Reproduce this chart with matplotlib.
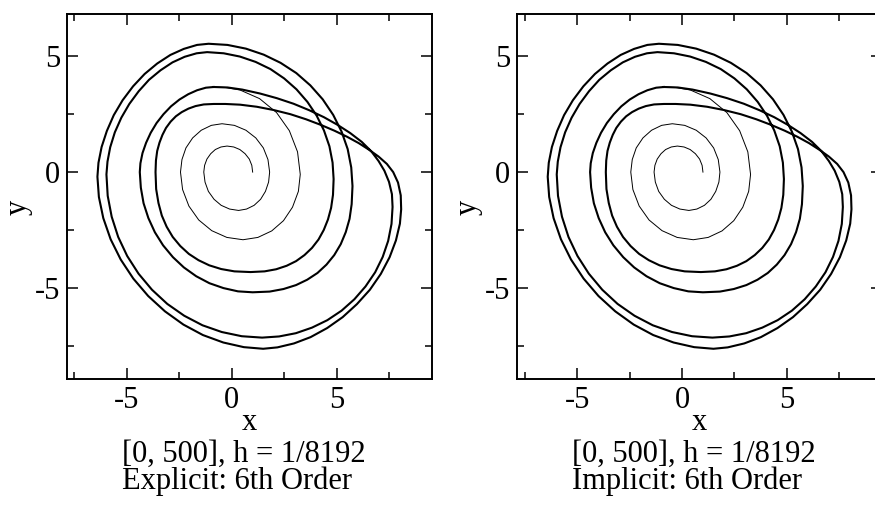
import numpy as np
import matplotlib
matplotlib.use('Agg')
import matplotlib.pyplot as plt
from matplotlib.ticker import MultipleLocator

plt.rcParams['font.family'] = ['Liberation Serif', 'DejaVu Serif']

# transient spiral starting at (1, 0)
spiral_x = [1.0, 0.96, 0.84, 0.64, 0.39, 0.10,
            -0.22, -0.51, -0.78, -1.00, -1.18, -1.29,
            -1.33, -1.27, -1.11, -0.84, -0.50, -0.10,
            0.33, 0.71, 1.07, 1.38, 1.61, 1.76,
            1.81, 1.73, 1.51, 1.15, 0.68, 0.13,
            -0.46, -0.97, -1.45, -1.86, -2.18, -2.37,
            -2.44, -2.34, -2.04, -1.57, -0.95, -0.23,
            0.54, 1.25, 1.91, 2.47, 2.90, 3.18,
            3.27, 3.14, 2.75, 2.14, 1.33, 0.40, -0.3, -0.86]
spiral_y = [0.0, 0.29, 0.56, 0.79, 0.97, 1.08,
            1.12, 1.08, 0.97, 0.79, 0.56, 0.29,
            0.0, -0.43, -0.83, -1.17, -1.43, -1.59,
            -1.65, -1.59, -1.43, -1.17, -0.83, -0.43,
            0.0, 0.54, 1.04, 1.47, 1.80, 2.01,
            2.08, 2.01, 1.80, 1.47, 1.04, 0.54,
            0.0, -0.75, -1.46, -2.06, -2.52, -2.81,
            -2.91, -2.81, -2.53, -2.09, -1.51, -0.83,
            -0.1, 0.87, 1.78, 2.56, 3.16, 3.53, 3.64, 3.66]

# settled orbit (four loops per period)
orbit_x = [
    # loop with top 3.7
    -0.86, -1.23, -1.65, -2.07, -2.49, -2.89, -3.25, -3.58, -3.86, -4.08, -4.25, -4.35,
    -4.38, -4.33, -4.20, -3.97, -3.66, -3.27, -2.80, -2.28, -1.69, -1.06, -0.39, 0.30,
    1.0, 1.81, 2.47, 3.07, 3.60, 4.09, 4.52, 4.89, 5.20, 5.44, 5.62, 5.72,
    5.76, 5.70, 5.53, 5.24, 4.84, 4.34, 3.75, 3.08, 2.33, 1.53, 0.68, -0.20,
    # loop with top 5.5, then the fold
    -1.1, -1.65, -2.28, -2.92, -3.55, -4.15, -4.70, -5.20, -5.62, -5.95, -6.20, -6.35,
    -6.4, -6.33, -6.12, -5.77, -5.29, -4.69, -3.98, -3.18, -2.30, -1.37, -0.40, 0.58,
    1.5, 2.18, 2.97, 3.76, 4.55, 5.29, 5.97, 6.59, 7.11, 7.53, 7.83, 8.02,
    8.08, 8.06, 7.93, 7.7, 7.4, 7.0, 6.55, 6.05, 5.5, 4.9, 4.25, 3.55, 2.8, 2.0, 1.2, 0.4, -0.3,
    # loop with top 2.9
    -0.86, -1.33, -1.72, -2.06, -2.38, -2.66, -2.91, -3.13, -3.30, -3.44, -3.55, -3.61,
    -3.63, -3.60, -3.49, -3.33, -3.10, -2.81, -2.45, -2.04, -1.58, -1.07, -0.50, 0.13,
    0.9, 1.57, 2.12, 2.62, 3.07, 3.47, 3.83, 4.14, 4.39, 4.59, 4.74, 4.83,
    4.86, 4.81, 4.66, 4.40, 4.05, 3.61, 3.09, 2.50, 1.85, 1.14, 0.39, -0.38,
    # loop with top 5.2, then the fold
    -1.17, -1.67, -2.24, -2.82, -3.39, -3.94, -4.43, -4.88, -5.26, -5.57, -5.79, -5.92,
    -5.97, -5.91, -5.72, -5.41, -4.98, -4.44, -3.80, -3.07, -2.26, -1.39, -0.47, 0.48,
    1.45, 2.26, 3.06, 3.83, 4.56, 5.24, 5.85, 6.38, 6.84, 7.20, 7.46, 7.62,
    7.67, 7.64, 7.5, 7.28, 7.0, 6.65, 6.2, 5.65, 5.05, 4.4, 3.7, 2.95, 2.15, 1.35, 0.5, -0.2,
    -0.86]
orbit_y = [
    3.66, 3.63, 3.52, 3.35, 3.12, 2.83, 2.49, 2.11, 1.69, 1.26, 0.82, 0.38,
    0.0, -0.67, -1.34, -1.98, -2.59, -3.15, -3.66, -4.10, -4.48, -4.78, -4.99, -5.13,
    -5.17, -5.14, -5.03, -4.86, -4.63, -4.34, -3.98, -3.57, -3.10, -2.58, -2.01, -1.38,
    -0.6, 0.20, 0.99, 1.74, 2.46, 3.13, 3.73, 4.26, 4.70, 5.05, 5.31, 5.47,
    5.52, 5.47, 5.30, 5.04, 4.67, 4.22, 3.69, 3.09, 2.45, 1.77, 1.08, 0.40,
    -0.2, -1.07, -1.98, -2.89, -3.76, -4.58, -5.33, -5.99, -6.56, -7.01, -7.33, -7.53,
    -7.6, -7.54, -7.37, -7.10, -6.71, -6.24, -5.68, -5.06, -4.38, -3.66, -2.94, -2.22,
    -1.6, -1.0, -0.45, 0.0, 0.35, 0.67, 0.96, 1.25, 1.52, 1.78, 2.03, 2.27, 2.49, 2.67, 2.81, 2.9, 2.93,
    2.93, 2.91, 2.84, 2.73, 2.58, 2.40, 2.17, 1.90, 1.60, 1.27, 0.91, 0.50,
    0.0, -0.73, -1.33, -1.87, -2.35, -2.79, -3.18, -3.52, -3.79, -4.01, -4.17, -4.27,
    -4.3, -4.27, -4.18, -4.03, -3.83, -3.57, -3.26, -2.90, -2.49, -2.04, -1.54, -0.98,
    -0.3, 0.41, 1.11, 1.79, 2.43, 3.02, 3.56, 4.03, 4.43, 4.74, 4.97, 5.11,
    5.16, 5.11, 4.96, 4.72, 4.38, 3.97, 3.48, 2.93, 2.34, 1.71, 1.07, 0.45,
    -0.1, -1.02, -1.92, -2.79, -3.61, -4.37, -5.06, -5.67, -6.18, -6.59, -6.88, -7.06,
    -7.12, -7.07, -6.93, -6.69, -6.37, -5.96, -5.47, -4.92, -4.31, -3.65, -2.96, -2.23,
    -1.5, -0.95, -0.42, 0.06, 0.48, 0.9, 1.3, 1.68, 2.03, 2.36, 2.66, 2.94, 3.18, 3.38, 3.55, 3.64,
    3.66]

captions = ['Explicit: 6th Order', 'Implicit: 6th Order']
interval_label = '[0, 500], h = 1/8192'

fs = 22

fig = plt.figure(figsize=(8.75, 5.11), dpi=100)
ax_w, ax_h = 365 / 875, 365 / 511
lefts = [67 / 875, 517.3 / 875]
bottom = (511 - 379) / 511

for i in range(2):
    ax = fig.add_axes([lefts[i], bottom, ax_w, ax_h])
    ax.plot(spiral_x, spiral_y, color='black', lw=0.7, solid_joinstyle='round')
    ax.plot(orbit_x, orbit_y, color='black', lw=1.5, solid_joinstyle='round')
    ax.set_xlim(-7.85, 9.55)
    ax.set_ylim(-8.9, 6.8)
    ax.xaxis.set_minor_locator(MultipleLocator(2.5))
    ax.yaxis.set_minor_locator(MultipleLocator(2.5))
    ax.set_xticks([-5, 0, 5])
    ax.set_xticklabels(['-5', '0', '5'])
    ax.set_yticks([-5, 0, 5])
    ax.set_yticklabels(['-5', '0', '5'])
    ax.tick_params(which='both', direction='in', top=True, right=True, labelsize=fs, width=1.1)
    ax.tick_params(which='major', length=8, pad=5)
    ax.tick_params(which='minor', length=5)
    for s in ax.spines.values():
        s.set_linewidth(1.4)
    ax.set_xlabel('x', fontsize=fs, va='baseline')
    ax.xaxis.set_label_coords(0.5, -0.1397)
    ax.set_ylabel('y', fontsize=fs, va='center')
    ax.yaxis.set_label_coords(-0.134, 0.47)
    # caption under each panel
    ax.text(0.15, -0.1658, interval_label + '\n' + captions[i], transform=ax.transAxes,
            ha='left', va='top', fontsize=fs, linespacing=0.92)

fig.savefig('out.png', dpi=100)
